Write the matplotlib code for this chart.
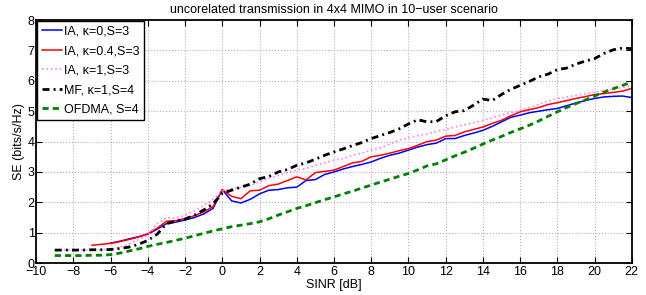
import numpy as np
import matplotlib
matplotlib.use('Agg')
import matplotlib.pyplot as plt

plt.rcParams['font.family'] = ['Liberation Sans', 'DejaVu Sans']

# SINR grid (dB)
sinr = np.arange(-9, 22.5, 0.5)

ia_k0 = [np.nan, np.nan, np.nan, np.nan, np.nan, np.nan,
         0.66, 0.72, 0.80, 0.87, 0.95, 1.12, 1.30, 1.35, 1.42, 1.50, 1.62, 1.80,
         2.42, 2.05, 1.98, 2.10, 2.28, 2.40, 2.42, 2.48, 2.50, 2.72, 2.75, 2.92,
         3.00, 3.10, 3.18, 3.25, 3.33, 3.45, 3.55, 3.62, 3.72, 3.82, 3.90, 3.95,
         4.10, 4.10, 4.20, 4.28, 4.37, 4.50, 4.65, 4.80, 4.87, 4.95, 5.00, 5.05,
         5.09, 5.18, 5.27, 5.35, 5.42, 5.47, 5.49, 5.50, 5.45]

ia_k04 = [np.nan, np.nan, np.nan, np.nan,
          0.59, 0.62, 0.65, 0.71, 0.78, 0.86, 0.97, 1.15, 1.38, 1.40, 1.47, 1.56,
          1.69, 1.86, 2.42, 2.20, 2.12, 2.38, 2.40, 2.55, 2.60, 2.72, 2.84, 2.74,
          2.98, 3.02, 3.06, 3.18, 3.30, 3.35, 3.50, 3.55, 3.62, 3.70, 3.77, 3.88,
          4.00, 4.05, 4.18, 4.20, 4.32, 4.40, 4.48, 4.60, 4.70, 4.85, 4.98, 5.05,
          5.12, 5.22, 5.28, 5.35, 5.42, 5.48, 5.55, 5.58, 5.62, 5.66, 5.75]

ia_k1 = [0.43, 0.43, 0.43, 0.43, 0.43, 0.44, 0.45, 0.52, 0.64, 0.78, 0.92, 1.30,
         1.50, 1.48, 1.58, 1.72, 1.90, 2.10, 2.38, 2.45, 2.50, 2.55, 2.68, 2.80,
         2.88, 2.98, 3.06, 3.12, 3.22, 3.30, 3.39, 3.44, 3.55, 3.62, 3.72, 3.80,
         3.92, 4.05, 4.12, 4.20, 4.25, 4.33, 4.40, 4.48, 4.55, 4.62, 4.70, 4.78,
         4.88, 4.95, 5.03, 5.12, 5.22, 5.33, 5.42, 5.47, 5.52, 5.58, 5.63, 5.68,
         5.73, 5.78, 5.84]

mf_k1 = [0.43, 0.43, 0.43, 0.43, 0.44, 0.44, 0.45, 0.48, 0.53, 0.62, 0.75, 0.95,
         1.30, 1.38, 1.45, 1.58, 1.75, 1.95, 2.30, 2.40, 2.50, 2.60, 2.78, 2.85,
         3.00, 3.08, 3.22, 3.30, 3.42, 3.55, 3.66, 3.76, 3.87, 3.97, 4.10, 4.20,
         4.30, 4.42, 4.58, 4.72, 4.65, 4.66, 4.85, 4.98, 5.02, 5.20, 5.40, 5.35,
         5.55, 5.72, 5.85, 5.98, 6.13, 6.22, 6.37, 6.42, 6.55, 6.65, 6.73, 6.90,
         7.02, 7.08, 7.06]

ofdma = [0.25, 0.25, 0.25, 0.25, 0.26, 0.26, 0.28, 0.33, 0.40, 0.47, 0.55, 0.62,
         0.68, 0.75, 0.82, 0.90, 0.98, 1.06, 1.13, 1.20, 1.25, 1.30, 1.36, 1.46,
         1.58, 1.69, 1.80, 1.89, 1.99, 2.09, 2.18, 2.28, 2.37, 2.47, 2.57, 2.67,
         2.76, 2.86, 2.95, 3.07, 3.20, 3.27, 3.40, 3.53, 3.65, 3.78, 3.92, 4.05,
         4.17, 4.30, 4.42, 4.54, 4.68, 4.83, 4.98, 5.12, 5.25, 5.37, 5.50, 5.63,
         5.74, 5.85, 5.96]

fig = plt.figure(figsize=(6.46, 2.95), dpi=100)
ax = fig.add_axes([0.056, 0.108, 0.922, 0.824])

ax.plot(sinr, ia_k0, color='#0000ff', lw=1.1, label='IA, \u03ba=0,S=3')
ax.plot(sinr, ia_k04, color='#ff0000', lw=1.1, label='IA, \u03ba=0.4,S=3')
ax.plot(sinr, ia_k1, color='#ff80ff', lw=1.2, ls=':', label='IA, \u03ba=1,S=3')
ax.plot(sinr, mf_k1, color='black', lw=2.0, dashes=(2.5, 1.5, 0.7, 1.5), label='MF, \u03ba=1,S=4')
ax.plot(sinr, ofdma, color='#008000', lw=2.0, dashes=(2.2, 1.5), label='OFDMA, S=4')

ax.set_xlim(-10, 22)
ax.set_ylim(0, 8)
ax.set_xticks(np.arange(-10, 23, 2))
ax.set_xticklabels(['\u221210', '\u22128', '\u22126', '\u22124', '\u22122', '0', '2', '4', '6',
                    '8', '10', '12', '14', '16', '18', '20', '22'])
ax.set_yticks(np.arange(0, 9, 1))
ax.tick_params(direction='in', top=True, right=True, labelsize=9, length=4, pad=2)
ax.tick_params(axis='y', pad=1)
ax.grid(True, ls=':', color='#b0b0b0', lw=0.8)
for s in ax.spines.values():
    s.set_linewidth(1.3)

ax.set_xlabel('SINR [dB]', fontsize=9, labelpad=1)
ax.set_ylabel('SE (bits/s/Hz)', fontsize=9, labelpad=2)
ax.set_title('uncorelated transmission in 4x4 MIMO in 10\u2212user scenario', fontsize=9, pad=5)

leg = ax.legend(loc='upper left', fontsize=9, handlelength=1.6, handletextpad=0.2,
                borderpad=0.35, labelspacing=0.6, fancybox=False, framealpha=1,
                borderaxespad=0.1)
leg.get_frame().set_edgecolor('black')
leg.get_frame().set_linewidth(1.0)

fig.savefig('out.png', dpi=100)
